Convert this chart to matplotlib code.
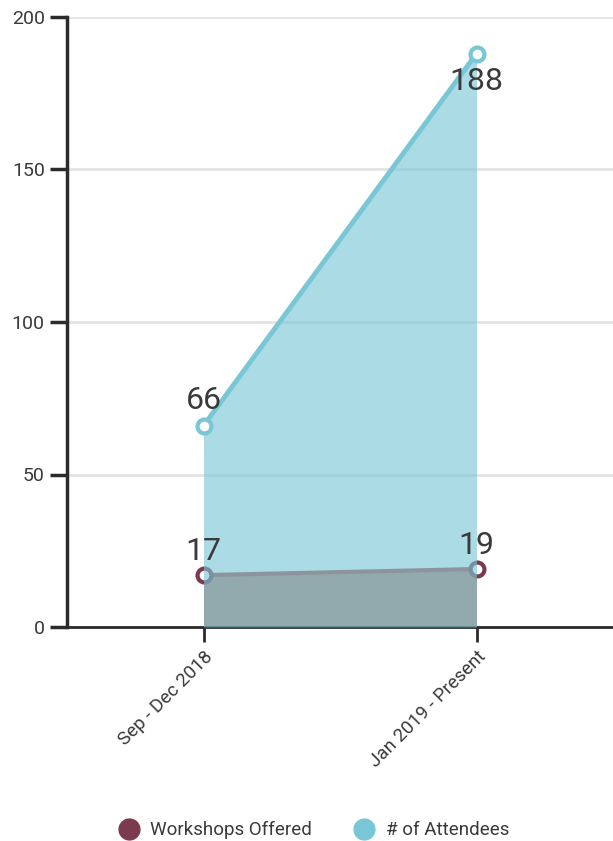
import matplotlib
matplotlib.use("Agg")
import matplotlib.pyplot as plt
from matplotlib.lines import Line2D

categories = ["Sep - Dec 2018", "Jan 2019 - Present"]
workshops = [17, 19]
attendees = [66, 188]
yticks = [0, 50, 100, 150, 200]

plt.rcParams['font.family'] = ['Roboto', 'DejaVu Sans']

maroon = '#7B3A4E'
blue = '#78C6D6'
text_c = '#3a3a3a'

fig = plt.figure(figsize=(6.13, 8.41), dpi=100)
ax = fig.add_axes([67/613, 1-627/841, 546/613, 610/841])

x = list(range(len(categories)))

ax.fill_between(x, 0, workshops, color='#BE7B6F', lw=0, zorder=1)
ax.plot(x, workshops, color='#B04444', lw=3, zorder=2)
ax.plot(x, workshops, ls='', marker='o', ms=10, mfc='white', mec=maroon, mew=3, zorder=2)
ax.fill_between(x, 0, attendees, color=blue, alpha=0.62, lw=0, zorder=3)
ax.plot(x, attendees, color=blue, lw=3.5, marker='o', ms=10, mfc='white', mec=blue, mew=3, zorder=4, clip_on=False)

for xi, v in zip(x, workshops):
    ax.annotate(str(v), (xi, v), xytext=(0, 17), textcoords='offset points', ha='center', va='center',
                fontsize=23, color=text_c, zorder=5)
ax.annotate(str(attendees[0]), (x[0], attendees[0]), xytext=(0, 18), textcoords='offset points',
            ha='center', va='center', fontsize=23, color=text_c, zorder=5)
ax.annotate(str(attendees[1]), (x[1], attendees[1]), xytext=(0, -20), textcoords='offset points',
            ha='center', va='center', fontsize=23, color=text_c, zorder=5)

ax.set_xlim(-0.5, 1.5)
ax.set_ylim(0, 200)
ax.set_yticks(yticks)
ax.set_yticklabels([str(t) for t in yticks], fontsize=14, color=text_c)
ax.set_xticks(x)
ax.set_xticklabels(categories, rotation=45, ha='right', rotation_mode='anchor', fontsize=13.5, color=text_c)

ax.yaxis.grid(True, color='#e3e3e3', lw=2)
ax.set_axisbelow(True)
for s in ['top', 'right']:
    ax.spines[s].set_visible(False)
ax.spines['left'].set_color('#2b2b2b')
ax.spines['left'].set_linewidth(2.5)
ax.spines['bottom'].set_color('#2b2b2b')
ax.spines['bottom'].set_linewidth(2)
ax.tick_params(axis='y', length=12, width=2.5, color='#2b2b2b', pad=4)
ax.tick_params(axis='x', length=11, width=2, color='#2b2b2b', pad=4)

handles = [Line2D([], [], ls='', marker='o', ms=15, color=maroon),
           Line2D([], [], ls='', marker='o', ms=15, color=blue)]
fig.legend(handles, ['Workshops Offered', '# of Attendees'], loc='center', bbox_to_anchor=(0.505, 0.013),
           ncol=2, frameon=False, fontsize=13.5, handletextpad=0.15, columnspacing=1.8,
           labelcolor=text_c)

fig.savefig('out.png', dpi=100)
